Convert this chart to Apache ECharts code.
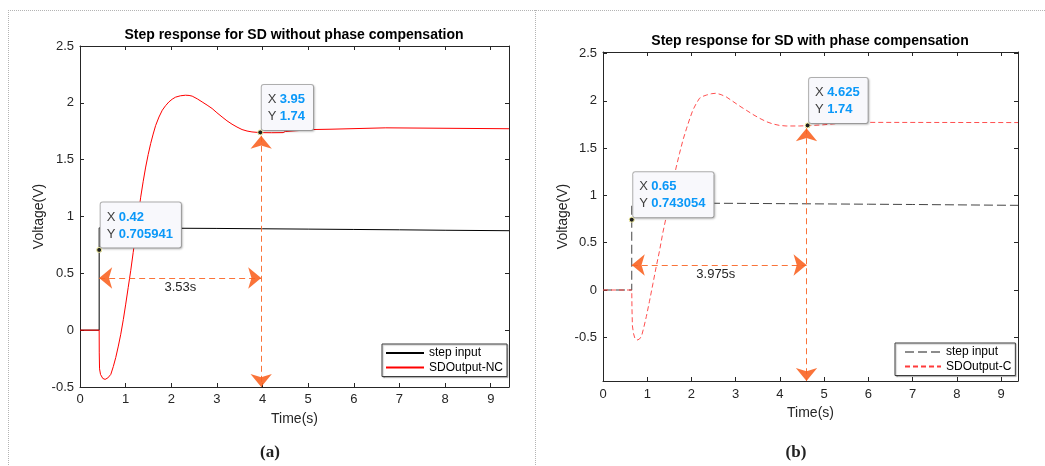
<!DOCTYPE html>
<html><head><meta charset="utf-8">
<script src="https://cdn.jsdelivr.net/npm/echarts@6/dist/echarts.min.js"></script>
<style>html,body{margin:0;padding:0;background:#fff;}#c{width:1045px;height:466px;}</style>
</head><body><div id="c"></div>
<script>
// ---- shared tick values ----
const xTicks = [0,1,2,3,4,5,6,7,8,9];
const yTicks = [-0.5,0,0.5,1,1.5,2,2.5];

// ---- (a) without phase compensation ----
const stepNC = [[0,0],[0.42,0],[0.42,0.9],[1,0.899],[2,0.897],[3,0.895],[4,0.892],[5,0.889],[6,0.886],[7,0.883],[8,0.879],[9.4,0.875]];
const outNC = [[0,0],[0.42,0],[0.422,-0.2],[0.428,-0.34],[0.45,-0.39],[0.5,-0.425],[0.55,-0.433],[0.61,-0.42],[0.675,-0.389],[0.73,-0.32],[0.784,-0.24],[0.84,-0.14],[0.893,-0.036],[0.95,0.095],[1.002,0.229],[1.056,0.375],[1.111,0.523],[1.166,0.685],[1.221,0.847],[1.276,1.01],[1.33,1.17],[1.385,1.31],[1.439,1.435],[1.494,1.545],[1.548,1.641],[1.603,1.725],[1.657,1.80],[1.73,1.875],[1.803,1.935],[1.875,1.975],[1.948,2.008],[2.02,2.032],[2.094,2.05],[2.2,2.062],[2.312,2.067],[2.39,2.065],[2.458,2.059],[2.57,2.035],[2.676,2.008],[2.785,1.98],[2.895,1.95],[3.0,1.913],[3.113,1.876],[3.22,1.842],[3.331,1.812],[3.44,1.787],[3.55,1.765],[3.66,1.752],[3.768,1.744],[3.95,1.738],[4.2,1.737],[4.45,1.738],[4.5,1.748],[5.0,1.762],[5.1,1.765],[5.5,1.768],[5.54,1.778],[6.7,1.78],[6.73,1.772],[9.4,1.772]];
const tipNC1 = ['0.42','0.705941'];
const tipNC2 = ['3.95','1.74'];
const arrowHNC = [[0.42,0.459],[3.97,0.459]];
const arrowVNC = [[3.97,1.71],[3.97,-0.5]];
const spanNC = [2.2,0.376,'3.53s'];

// ---- (b) with phase compensation ----
const stepC = [[0,0],[0.65,0],[0.65,0.92],[1,0.92],[2,0.918],[3,0.916],[4,0.913],[5,0.91],[6,0.907],[7,0.904],[8,0.9],[9.38,0.895]];
const outC = [[0,0],[0.65,0],[0.655,-0.2],[0.665,-0.38],[0.69,-0.46],[0.72,-0.51],[0.77,-0.529],[0.82,-0.52],[0.87,-0.49],[0.92,-0.4],[0.98,-0.28],[1.05,-0.12],[1.13,0.07],[1.2,0.24],[1.28,0.42],[1.35,0.6],[1.43,0.775],[1.5,0.95],[1.58,1.128],[1.65,1.29],[1.73,1.445],[1.81,1.59],[1.89,1.71],[1.96,1.81],[2.03,1.9],[2.1,1.965],[2.18,2.026],[2.26,2.048],[2.34,2.061],[2.45,2.075],[2.56,2.08],[2.67,2.065],[2.79,2.04],[2.9,2.005],[3.01,1.97],[3.12,1.935],[3.24,1.9],[3.39,1.855],[3.54,1.815],[3.69,1.78],[3.84,1.755],[3.99,1.74],[4.14,1.734],[4.44,1.734],[4.625,1.737],[4.95,1.745],[5.3,1.76],[5.9,1.772],[9.38,1.77]];
const tipC1 = ['0.65','0.743054'];
const tipC2 = ['4.625','1.74'];
const arrowHC = [[0.65,0.264],[4.6,0.264]];
const arrowVC = [[4.6,1.71],[4.6,-0.962]];
const spanC = [2.55,0.169,'3.975s'];

const FONT = 'Liberation Sans, Arial, sans-serif';
const AX = '#262626';
const ORANGE = '#fa6424';

function tipItem(tip){
  return {
    coord:[parseFloat(tip[0]), parseFloat(tip[1])],
    symbol:'circle', symbolSize:5,
    itemStyle:{color:'#1e1e1e', borderColor:'#f4f0a0', borderWidth:1},
    label:{
      show:true, position:[4.5,0.5], align:'left', verticalAlign:'bottom',
      formatter:'{k|X} {v|'+tip[0]+'}\n{k|Y} {v|'+tip[1]+'}',
      backgroundColor:'#f8f8fc', borderColor:'#b0b0b0', borderWidth:1, borderRadius:2,
      padding:[6,8,5,6],
      shadowColor:'rgba(0,0,0,0.18)', shadowBlur:2, shadowOffsetX:1, shadowOffsetY:1,
      rich:{
        k:{fontFamily:FONT, fontSize:13, color:'#404040', lineHeight:17},
        v:{fontFamily:FONT, fontSize:13, fontWeight:'bold', color:'#0a98f8', lineHeight:17}
      }
    }
  };
}
function textItem(t){
  return {
    coord:[t[0],t[1]], symbol:'rect', symbolSize:1,
    itemStyle:{color:'rgba(0,0,0,0)'},
    label:{show:true, position:'inside', formatter:t[2], color:AX, fontFamily:FONT, fontSize:13}
  };
}
function arrows(h, v){
  return {
    silent:true, animation:false,
    symbol:['arrow','arrow'], symbolSize:[16,13],
    lineStyle:{color:ORANGE, width:1, type:[6,4], opacity:0.9},
    label:{show:false},
    data:[
      [{coord:h[0]},{coord:h[1]}],
      [{coord:v[0]},{coord:v[1]}]
    ]
  };
}
function xAx(grid, max, bottom, nameGap, margin){
  return {
    type:'value', gridIndex:grid, min:0, max:max, position: bottom ? 'bottom':'top',
    axisLine:{show:true, onZero:false, lineStyle:{color:AX, width:1}},
    axisTick:{show:true, inside:true, length:4, customValues:xTicks, lineStyle:{color:AX}},
    axisLabel:{show:bottom, customValues:xTicks, color:AX, fontFamily:FONT, fontSize:13, margin:margin},
    splitLine:{show:false},
    name: bottom ? 'Time(s)' : '', nameLocation:'middle', nameGap:nameGap,
    nameTextStyle:{color:AX, fontFamily:FONT, fontSize:14}
  };
}
function yAx(grid, min, max, left, nameGap){
  return {
    type:'value', gridIndex:grid, min:min, max:max, position: left ? 'left':'right',
    axisLine:{show:true, onZero:false, lineStyle:{color:AX, width:1}},
    axisTick:{show:true, inside:true, length:4, customValues:yTicks, lineStyle:{color:AX}},
    axisLabel:{show:left, customValues:yTicks, color:AX, fontFamily:FONT, fontSize:13, margin:6},
    splitLine:{show:false},
    name: left ? 'Voltage(V)' : '', nameLocation:'middle', nameGap:nameGap, nameRotate:90,
    nameTextStyle:{color:AX, fontFamily:FONT, fontSize:14}
  };
}
const legendBase = {
  orient:'vertical', selectedMode:false,
  itemHeight:13, itemGap:2.5,
  backgroundColor:'#fff', borderColor:'#3c3c3c', borderWidth:1,
  shadowColor:'rgba(0,0,0,0.25)', shadowOffsetX:1, shadowOffsetY:1, shadowBlur:1,
  itemStyle:{color:'rgba(0,0,0,0)', borderWidth:0, opacity:0},
  textStyle:{color:'#000', fontFamily:FONT, fontSize:12}
};

const chart = echarts.init(document.getElementById('c'), null, {renderer:'canvas'});
const dotted = {stroke:'#b4b4b4', lineWidth:1, lineDash:[1,1]};
chart.setOption({
  animation:false,
  backgroundColor:'#fff',
  grid:[
    {left:80, right:536, top:46, bottom:79},
    {left:603, right:27, top:52, bottom:85}
  ],
  xAxis:[ xAx(0,9.4,true,25,6), xAx(0,9.4,false,0,6), xAx(1,9.38,true,24,7), xAx(1,9.38,false,0,7) ],
  yAxis:[ yAx(0,-0.5,2.5,true,34), yAx(0,-0.5,2.5,false,0), yAx(1,-0.962,2.516,true,33), yAx(1,-0.962,2.516,false,0) ],
  legend:[
    Object.assign({}, legendBase, {data:['step input','SDOutput-NC'], left:382, top:344, itemWidth:38, padding:[3,4,3,3]}),
    Object.assign({}, legendBase, {data:[{name:'step input ', lineStyle:{color:'#8c8c8c'}},'SDOutput-C'], left:895, top:343, itemWidth:36, padding:[3,4,3,9]})
  ],
  series:[
    {name:'step input', type:'line', xAxisIndex:0, yAxisIndex:0, data:stepNC, symbol:'none',
     lineStyle:{color:'#000', width:1}, itemStyle:{color:'#000'}},
    {name:'SDOutput-NC', type:'line', xAxisIndex:0, yAxisIndex:0, data:outNC, symbol:'none',
     lineStyle:{color:'#ff0000', width:1}, itemStyle:{color:'#ff0000'},
     markLine: arrows(arrowHNC, arrowVNC),
     markPoint:{silent:true, animation:false, data:[tipItem(tipNC1), tipItem(tipNC2), textItem(spanNC)]}},
    {name:'step input ', type:'line', xAxisIndex:2, yAxisIndex:2, data:stepC, symbol:'none',
     lineStyle:{color:'#444444', width:1, type:[9,4]}, itemStyle:{color:'#444444'}},
    {name:'SDOutput-C', type:'line', xAxisIndex:2, yAxisIndex:2, data:outC, symbol:'none',
     lineStyle:{color:'#ff3b3b', width:0.9, type:[5,3]}, itemStyle:{color:'#ff3b3b'},
     markLine: arrows(arrowHC, arrowVC),
     markPoint:{silent:true, animation:false, data:[tipItem(tipC1), tipItem(tipC2), textItem(spanC)]}}
  ],
  graphic:[
    {type:'line', shape:{x1:8, y1:10.5, x2:1045, y2:10.5}, style:dotted, silent:true},
    {type:'line', shape:{x1:8.5, y1:10, x2:8.5, y2:466}, style:dotted, silent:true},
    {type:'line', shape:{x1:535.5, y1:10, x2:535.5, y2:466}, style:dotted, silent:true},
    {type:'text', x:294, y:35, style:{text:'Step response for SD without phase compensation', fill:'#000', font:'bold 14px '+FONT, align:'center', verticalAlign:'middle'}},
    {type:'text', x:810, y:41, style:{text:'Step response for SD with phase compensation', fill:'#000', font:'bold 14px '+FONT, align:'center', verticalAlign:'middle'}},
    {type:'text', x:270, y:453, style:{text:'(a)', fill:'#222', font:'bold 17px Liberation Serif, Times New Roman, serif', align:'center', verticalAlign:'middle'}},
    {type:'text', x:796, y:453, style:{text:'(b)', fill:'#222', font:'bold 17px Liberation Serif, Times New Roman, serif', align:'center', verticalAlign:'middle'}}
  ]
});
</script></body></html>
